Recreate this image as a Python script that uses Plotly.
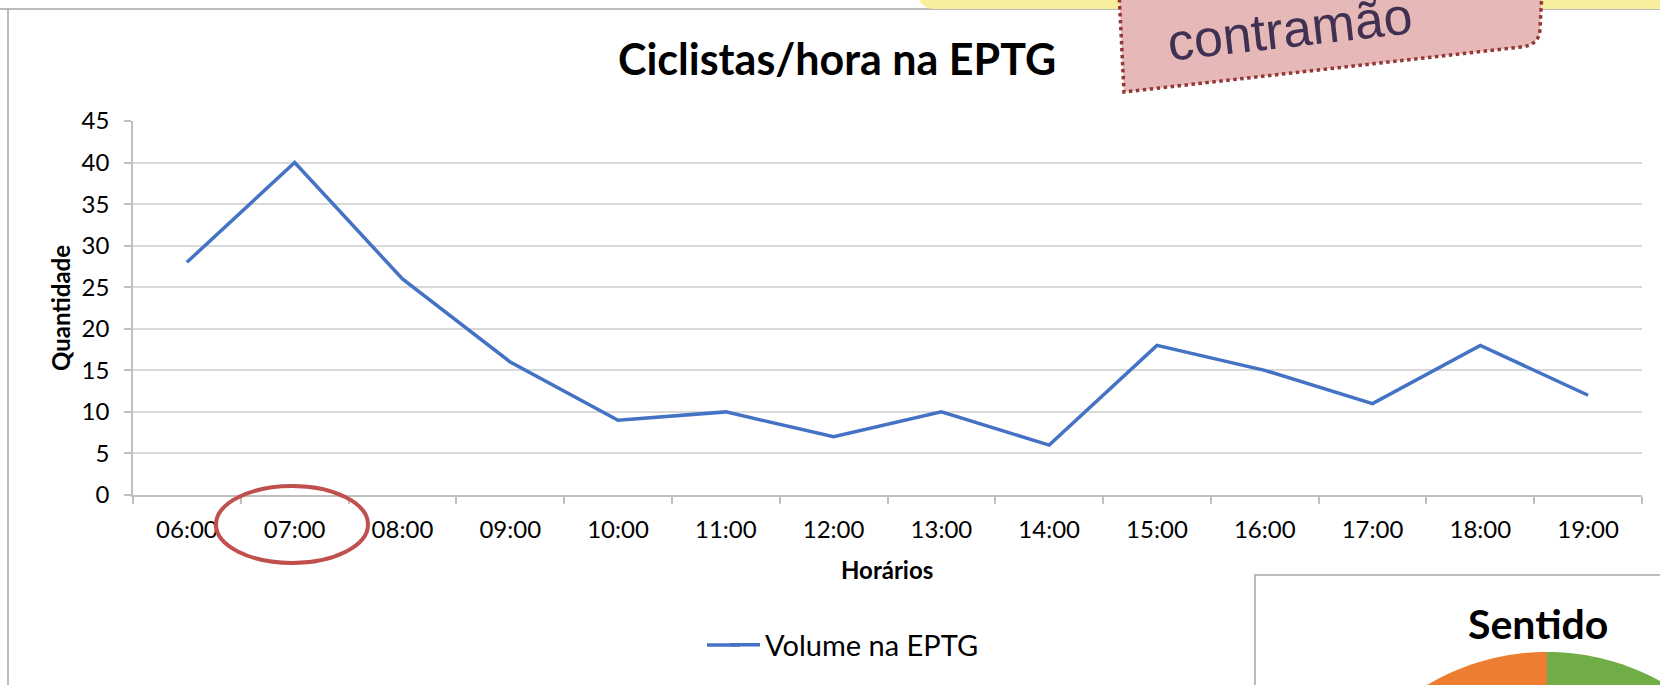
import numpy as np
import plotly.graph_objects as go

# ---------------- data ----------------
horarios = ["06:00", "07:00", "08:00", "09:00", "10:00", "11:00", "12:00",
            "13:00", "14:00", "15:00", "16:00", "17:00", "18:00", "19:00"]
volume_eptg = [28, 40, 26, 16, 9, 10, 7, 10, 6, 18, 15, 11, 18, 12]
y_ticks = [0, 5, 10, 15, 20, 25, 30, 35, 40, 45]
serie_nome = "Volume na EPTG"
titulo = "Ciclistas/hora na EPTG"
titulo_y = "Quantidade"
titulo_x = "Horários"
texto_balao = "contramão"
titulo_pizza = "Sentido"

# ---------------- geometry helpers (pixel -> paper) ----------------
W, H = 1660, 685
ML, MR, MT, MB = 133, 18, 121, 190
PW, PH = W - ML - MR, H - MT - MB


def px(x):
    return (x - ML) / PW


def py(y):
    return (H - MB - y) / PH


def path_from(points, close=True):
    s = "M " + " L ".join(f"{px(a):.5f},{py(b):.5f}" for a, b in points)
    return s + (" Z" if close else "")


FONT = "Lato"
GRID = "#d9d9d9"
AXIS = "#bfbfbf"
LINE_COLOR = "#4472c4"

fig = go.Figure()
fig.add_trace(go.Scatter(
    x=horarios, y=volume_eptg, mode="lines", name=serie_nome,
    line=dict(color=LINE_COLOR, width=3.5),
))

shapes = []
# outer chart border (top and left)
shapes.append(dict(type="line", xref="paper", yref="paper",
                   x0=px(-5), x1=px(W + 5), y0=py(9), y1=py(9),
                   line=dict(color="#a6a6a6", width=1.5)))
shapes.append(dict(type="line", xref="paper", yref="paper",
                   x0=px(8), x1=px(8), y0=py(9), y1=py(H + 5),
                   line=dict(color="#a6a6a6", width=1.5)))

# yellow shape peeking at the top
ys = f"M {px(920):.5f},{py(-5):.5f} L {px(1665):.5f},{py(-5):.5f} L {px(1665):.5f},{py(9):.5f} " \
     f"L {px(935):.5f},{py(9):.5f} Q {px(920):.5f},{py(9):.5f} {px(918):.5f},{py(-5):.5f} Z"
shapes.append(dict(type="path", xref="paper", yref="paper", path=ys,
                   fillcolor="#f7ef9e", line=dict(width=0), layer="above"))

# pink callout with dotted border
cp = (f"M {px(1119):.5f},{py(-8):.5f} L {px(1124):.5f},{py(92):.5f} "
      f"L {px(1521):.5f},{py(47):.5f} Q {px(1540):.5f},{py(45):.5f} {px(1540):.5f},{py(28):.5f} "
      f"L {px(1542):.5f},{py(-8):.5f} Z")
shapes.append(dict(type="path", xref="paper", yref="paper", path=cp,
                   fillcolor="#e6b9b8", line=dict(color="#953735", width=3.5, dash="dot"),
                   layer="above"))

# red ellipse around 07:00
shapes.append(dict(type="circle", xref="paper", yref="paper",
                   x0=px(216), x1=px(368), y0=py(486), y1=py(563),
                   line=dict(color="#c0504d", width=4), layer="above"))

# longer legend sample line (Excel style), extends plotly's legend symbol to the left
shapes.append(dict(type="line", xref="paper", yref="paper",
                   x0=px(707), x1=px(740), y0=py(645), y1=py(645),
                   line=dict(color=LINE_COLOR, width=3.5)))

# second chart box ("Sentido")
shapes.append(dict(type="rect", xref="paper", yref="paper",
                   x0=px(1255), x1=px(W + 10), y0=py(575), y1=py(H + 10),
                   fillcolor="white", line=dict(color="#a6a6a6", width=1.5), layer="above"))

# pie slices (only the top part is visible)
cx, cy, r = 1547, 887, 235
ang_o = np.linspace(90, 200, 60)
ang_g = np.linspace(90, -20, 60)
pts_o = [(cx, cy)] + [(cx + r * np.cos(np.radians(a)), cy - r * np.sin(np.radians(a))) for a in ang_o]
pts_g = [(cx, cy)] + [(cx + r * np.cos(np.radians(a)), cy - r * np.sin(np.radians(a))) for a in ang_g]
shapes.append(dict(type="path", xref="paper", yref="paper", path=path_from(pts_o),
                   fillcolor="#ed7d31", line=dict(width=0), layer="above"))
shapes.append(dict(type="path", xref="paper", yref="paper", path=path_from(pts_g),
                   fillcolor="#70ad47", line=dict(width=0), layer="above"))

annotations = [
    dict(text=f"<b>{titulo}</b>", x=px(837), y=py(58), xref="paper", yref="paper",
         showarrow=False, xanchor="center", yanchor="middle",
         font=dict(family=FONT, size=43, color="black")),
    dict(text=f"<b>{titulo_y}</b>", x=px(60), y=py(308), xref="paper", yref="paper",
         showarrow=False, textangle=-90, xanchor="center", yanchor="middle",
         font=dict(family=FONT, size=24, color="black")),
    dict(text=f"<b>{titulo_x}</b>", x=px(887), y=py(569), xref="paper", yref="paper",
         showarrow=False, xanchor="center", yanchor="middle",
         font=dict(family=FONT, size=24, color="black")),
    dict(text=texto_balao, x=px(1290), y=py(29), xref="paper", yref="paper",
         showarrow=False, textangle=-6.5, xanchor="center", yanchor="middle",
         font=dict(family="Liberation Sans", size=52, color="#403152")),
    dict(text=f"<b>{titulo_pizza}</b>", x=px(1538), y=py(623), xref="paper", yref="paper",
         showarrow=False, xanchor="center", yanchor="middle",
         font=dict(family=FONT, size=41, color="black")),
]

fig.update_layout(
    width=W, height=H,
    margin=dict(l=ML, r=MR, t=MT, b=MB, pad=0),
    paper_bgcolor="white", plot_bgcolor="white",
    showlegend=True,
    legend=dict(orientation="h", x=px(725), y=py(645), xanchor="left", yanchor="middle",
                font=dict(family=FONT, size=29, color="black"), bgcolor="rgba(0,0,0,0)"),
    shapes=shapes,
    annotations=annotations,
    xaxis=dict(type="category", range=[-0.5, 13.5], tickson="boundaries",
               ticks="outside", ticklen=7, tickcolor=AXIS, tickwidth=1.5,
               showline=True, linecolor=AXIS, linewidth=1.5, showgrid=False, zeroline=False,
               ticklabelstandoff=12,
               tickfont=dict(family=FONT, size=24, color="black")),
    yaxis=dict(range=[0, 45], tickvals=y_ticks, ticks="outside", ticklen=7,
               tickcolor=AXIS, tickwidth=1.5, showline=True, linecolor=AXIS, linewidth=1.5,
               showgrid=True, gridcolor=GRID, gridwidth=1.5, zeroline=False,
               ticklabelstandoff=10,
               tickfont=dict(family=FONT, size=24, color="black")),
)

fig.write_html("out.html", config={"displayModeBar": False},
               post_script="document.body.style.margin='0';document.body.style.overflow='hidden';")
